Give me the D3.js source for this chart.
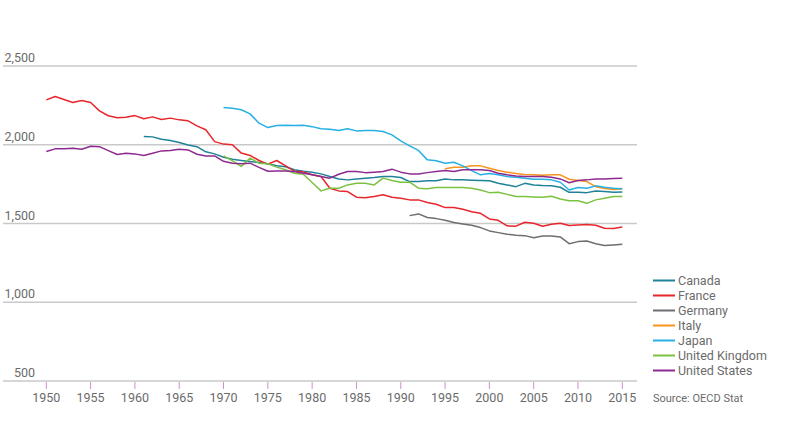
<!DOCTYPE html>
<html>
<head>
<meta charset="utf-8">
<script src="https://cdn.jsdelivr.net/npm/d3@7"></script>
<style>
  body { margin: 0; background: #fff; }
  svg text { font-family: Roboto, "Open Sans", sans-serif; fill: #6b6b6b; }
</style>
</head>
<body>
<svg id="chart" width="787" height="443"></svg>
<script>
// Average annual hours worked per worker
const countries = ["Canada", "France", "Germany", "Italy", "Japan", "United Kingdom", "United States"];
const colors = ["#1f8298", "#e8262b", "#6d6e71", "#f7941d", "#26b0e3", "#7cc242", "#8d2a8f"];

const canadaYears = d3.range(1961, 2016);
const canada = [2052, 2050, 2035, 2027, 2014, 1999, 1988, 1955, 1942, 1921,
  1908, 1900, 1893, 1887, 1879, 1866, 1860, 1841, 1832, 1826,
  1815, 1798, 1783, 1777, 1783, 1788, 1792, 1798, 1798, 1792,
  1766, 1766, 1771, 1771, 1783, 1777, 1777, 1775, 1773, 1771,
  1755, 1745, 1734, 1755, 1745, 1741, 1739, 1730, 1698, 1698,
  1696, 1707, 1703, 1698, 1700];

const franceYears = d3.range(1950, 2016);
const france = [2285, 2306, 2287, 2268, 2281, 2268, 2215, 2184, 2171, 2175,
  2185, 2165, 2177, 2160, 2169, 2158, 2152, 2120, 2095, 2020,
  2004, 2000, 1947, 1932, 1900, 1877, 1900, 1866, 1832, 1828,
  1810, 1798, 1724, 1707, 1703, 1667, 1663, 1671, 1682, 1667,
  1660, 1650, 1650, 1633, 1622, 1601, 1601, 1590, 1575, 1565,
  1529, 1520, 1485, 1483, 1508, 1502, 1483, 1495, 1502, 1487,
  1491, 1493, 1489, 1470, 1468, 1478];

const germanyYears = d3.range(1991, 2016);
const germany = [1550, 1561, 1538, 1531, 1521, 1506, 1497, 1489, 1474, 1453,
  1442, 1432, 1425, 1423, 1410, 1421, 1421, 1415, 1372, 1385,
  1389, 1372, 1360, 1364, 1368];

const italyYears = d3.range(1995, 2016);
const italy = [1847, 1857, 1857, 1866, 1866, 1851, 1836, 1826, 1817, 1811,
  1809, 1807, 1809, 1809, 1781, 1773, 1766, 1734, 1722, 1716, 1720];

const japanYears = d3.range(1970, 2016);
const japan = [2236, 2232, 2222, 2196, 2137, 2109, 2122, 2124, 2122, 2124,
  2115, 2101, 2099, 2090, 2101, 2088, 2091, 2091, 2084, 2063,
  2025, 1993, 1964, 1904, 1898, 1883, 1889, 1866, 1836, 1809,
  1817, 1809, 1798, 1794, 1788, 1781, 1781, 1777, 1762, 1713,
  1728, 1724, 1739, 1730, 1724, 1720];

const ukYears = d3.range(1970, 2016);
const uk = [1929, 1897, 1862, 1915, 1883, 1879, 1858, 1841, 1819, 1813,
  1760, 1707, 1724, 1724, 1745, 1755, 1755, 1745, 1788, 1773,
  1762, 1762, 1724, 1720, 1728, 1728, 1728, 1728, 1724, 1713,
  1696, 1698, 1685, 1671, 1671, 1669, 1667, 1673, 1656, 1645,
  1645, 1628, 1650, 1660, 1671, 1671];

const usYears = d3.range(1950, 2016);
const us = [1957, 1974, 1974, 1978, 1971, 1990, 1988, 1963, 1938, 1946,
  1942, 1932, 1946, 1961, 1963, 1971, 1967, 1940, 1929, 1929,
  1895, 1883, 1879, 1883, 1856, 1832, 1834, 1834, 1830, 1819,
  1809, 1798, 1788, 1813, 1830, 1830, 1823, 1826, 1830, 1845,
  1826, 1815, 1815, 1823, 1830, 1836, 1830, 1841, 1841, 1841,
  1836, 1819, 1809, 1802, 1798, 1798, 1798, 1794, 1783, 1759,
  1773, 1777, 1783, 1783, 1786, 1788];

const yTicks = [500, 1000, 1500, 2000, 2500];
const xTicks = d3.range(1950, 2016, 5);

const seriesYears = [canadaYears, franceYears, germanyYears, italyYears, japanYears, ukYears, usYears];
const seriesValues = [canada, france, germany, italy, japan, uk, us];

const series = countries.map((name, i) => ({
  name,
  color: colors[i],
  points: seriesYears[i].map((yr, j) => ({ year: yr, value: seriesValues[i][j] }))
}));

const svg = d3.select("#chart");

const x = d3.scaleLinear().domain([1950, 2015]).range([46.3, 622.3]);
const y = d3.scaleLinear().domain([500, 2500]).range([381, 66]);

// Gridlines
svg.append("g")
  .selectAll("line")
  .data(yTicks)
  .enter()
  .append("line")
  .attr("x1", 3)
  .attr("x2", 637)
  .attr("y1", d => y(d))
  .attr("y2", d => y(d))
  .attr("stroke", "#c9c9c9")
  .attr("stroke-width", 1.3);

// Y labels sit above their gridlines
svg.append("g")
  .selectAll("text")
  .data(yTicks)
  .enter()
  .append("text")
  .attr("x", 35)
  .attr("y", d => y(d) - 4)
  .attr("text-anchor", "end")
  .style("font-size", "12.5px")
  .text(d => d3.format(",")(d));

// X axis ticks and labels
const xAxis = svg.append("g").attr("transform", `translate(0,${y(500)})`);
xAxis.selectAll("line")
  .data(xTicks)
  .enter()
  .append("line")
  .attr("x1", d => x(d))
  .attr("x2", d => x(d))
  .attr("y1", 1)
  .attr("y2", 8)
  .attr("stroke", "#cf8fd0")
  .attr("stroke-width", 1);
xAxis.selectAll("text")
  .data(xTicks)
  .enter()
  .append("text")
  .attr("x", d => x(d))
  .attr("y", 21)
  .attr("text-anchor", "middle")
  .style("font-size", "12.5px")
  .text(d => d);

// Lines
const line = d3.line()
  .x(d => x(d.year))
  .y(d => y(d.value));

svg.append("g")
  .selectAll("path")
  .data(series)
  .enter()
  .append("path")
  .attr("d", d => line(d.points))
  .attr("fill", "none")
  .attr("stroke", d => d.color)
  .attr("stroke-width", 1.5)
  .attr("stroke-linejoin", "round");

// Legend
const legend = svg.append("g")
  .selectAll("g")
  .data(series)
  .enter()
  .append("g")
  .attr("transform", (d, i) => `translate(653,${280.5 + i * 15})`);
legend.append("line")
  .attr("x1", 0)
  .attr("x2", 22)
  .attr("stroke", d => d.color)
  .attr("stroke-width", 2);
legend.append("text")
  .attr("x", 25)
  .attr("dy", "0.35em")
  .style("font-size", "12.5px")
  .text(d => d.name);

svg.append("text")
  .attr("x", 653)
  .attr("y", 402)
  .style("font-size", "11px")
  .text("Source: OECD Stat");
</script>
</body>
</html>
